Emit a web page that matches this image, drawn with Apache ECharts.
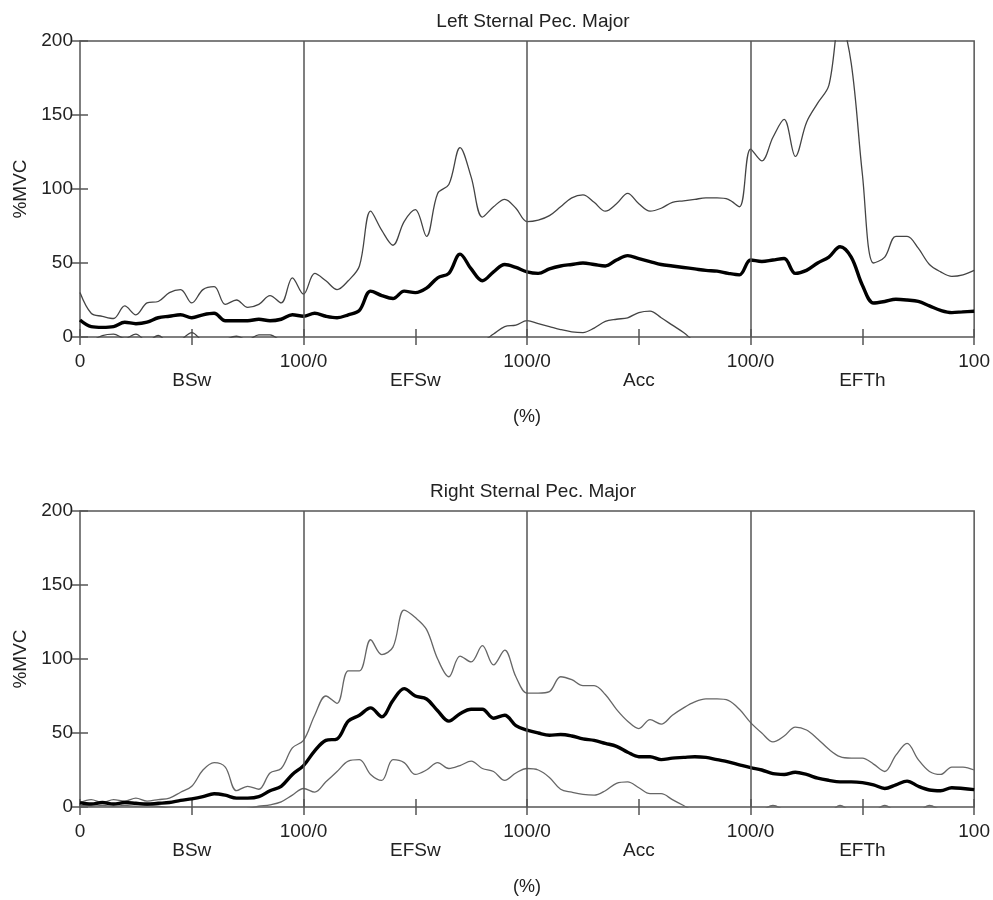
<!DOCTYPE html>
<html>
<head>
<meta charset="utf-8">
<title>Sternal Pec. Major</title>
<script src="https://cdn.jsdelivr.net/npm/echarts@6/dist/echarts.min.js"></script>
<style>
  html, body { margin: 0; padding: 0; background: #fff; }
  #chart { width: 993px; height: 900px; }
</style>
</head>
<body>
<div id="chart"></div>
<script>
// samples every 5 % of the cycle, 0..400 (four phases of 100 %)
const step = 5;
const phaseNames = ['BSw', 'EFSw', 'Acc', 'EFTh'];
const boundaryLabels = ['0', '100/0', '100/0', '100/0', '100'];
const phaseEdges = [100, 200, 300];
const titles = ['Left Sternal Pec. Major', 'Right Sternal Pec. Major'];

// Left sternal pec. major: mean + SD, mean, mean - SD
const leftUpper = [
  30, 16, 14, 12.5, 21, 15, 23, 24, 30, 32, 23, 32, 34, 22, 25, 20, 22, 28, 23, 40,
  29, 43, 38, 32, 38, 48, 85, 72, 62, 78, 86, 68, 97, 103, 128, 108, 81, 88, 93, 87,
  78, 79, 82, 88, 94, 96, 91, 85, 90, 97, 90, 85, 87, 91, 92, 93, 94, 94, 93, 88,
  127, 119, 135, 147, 122, 145, 158, 170, 215, 185, 110, 50, 54, 68, 68, 60, 49, 44, 41, 42,
  45
];
const leftMean = [
  11.5, 7, 6.5, 7, 10, 9, 10, 13, 14, 15, 13, 15, 16, 11, 11, 11, 12, 11, 12, 15,
  14, 16, 14, 13, 15, 18, 31, 28, 26, 31, 30, 33, 40, 43, 56, 46, 38, 44, 49, 47,
  44, 43, 46, 48, 49, 50, 49, 48, 52, 55, 53, 51, 49, 48, 47, 46, 45, 44.5, 43, 42,
  52, 51, 52, 53, 43, 45, 50, 54, 61, 54, 35, 23, 24, 25.5, 25, 24, 21, 18, 16.5, 17,
  17.4
];
const leftLower = [
  -8, -3, 1, 2, -1, 2, -3, 1, -4, -2, 3, -3, -6, -2, 0.5, -2, 1.5, 1.5, -3, -8,
  -6, -10, -14, -16, -18, -18, -20, -20, -20, -18, -16, -14, -12, -10, -8, -6, -3, 2, 7, 8,
  11, 9, 7, 5, 3.5, 3, 6, 10.5, 12, 13, 16.5, 17.5, 13, 8, 3, -3, -6, -10, -14, -16,
  -10, -10, -10, -10, -10, -10, -10, -10, -10, -10, -10, -10, -10, -10, -10, -10, -10, -10, -10, -10,
  -10
];

// Right sternal pec. major
const rightUpper = [
  3, 5, 3, 5, 4, 6, 4, 5, 6, 10, 14, 25, 30, 27, 11, 14, 12, 23, 26, 40,
  45, 62, 75, 70, 92, 92, 113, 103, 108, 133, 128, 120, 100, 88, 102, 98, 109, 96, 106, 88,
  77, 77, 78, 88, 86, 82, 82, 76, 66, 58, 53, 59, 56, 62, 67, 71, 73, 73, 72, 66,
  57, 50, 44, 48, 54, 52, 46, 39, 34, 33, 33, 29, 24, 35, 43, 32, 24, 22, 27, 27,
  25
];
const rightMean = [
  3, 2, 3, 2, 3, 2.5, 2, 2.5, 3, 4.5, 5.5, 7, 9, 8, 6, 6, 7, 11, 14, 22,
  28, 38, 45, 46, 58, 62, 67, 61, 72, 80, 75, 73, 65, 58, 63, 66, 66, 60, 62, 55,
  52, 50, 48.5, 49, 48, 46, 45, 43, 41, 37, 34, 34, 32, 33, 33.5, 34, 33.5, 32, 30.5, 28.5,
  26.6, 25, 22.5, 22, 23.5, 22, 19.5, 18, 17, 17, 16.5, 15, 12.5, 15, 17.5, 14, 11.5, 11, 13, 12.5,
  11.7
];
const rightLower = [
  1, 0.5, 1, 0.5, 1, 0.5, 1, 0.5, -1, -3, -4, -5, -4, -3, -2, -1, 0.5, 1.5, 3.5, 8,
  12.5, 10, 17, 24, 31, 32, 22, 18, 32, 30, 22, 25, 30, 26, 28, 31, 26, 24, 18, 23,
  26, 25, 20, 12, 10, 8.5, 8, 11, 16, 17, 13, 9, 9, 5, 1, -3, -5, -5, -5, -5,
  -3, -2, 1, -2, -4, -3, -2, -3, 1, -3, -4, -3, 1, -3, -4, -3, 1, -2, -4, -5,
  -5
];

const panels = [
  [leftUpper, leftMean, leftLower],
  [rightUpper, rightMean, rightLower]
];

const font = 'Liberation Sans, Arial, Helvetica, sans-serif';
const textColor = '#222';
const frameColor = '#555';
const gridTops = [41, 511];

function pairs(values) {
  return values.map((v, i) => [i * step, v]);
}

function xLabel(v) {
  if (v % 100 === 0) return boundaryLabels[v / 100];
  return '\n' + phaseNames[(v - 50) / 100];
}

const option = {
  animation: false,
  backgroundColor: '#fff',
  title: titles.map((t, i) => ({
    text: t,
    left: 528,
    top: gridTops[i] - 34,
    textAlign: 'center',
    textStyle: { fontSize: 19, fontWeight: 'normal', color: textColor, fontFamily: font }
  })),
  grid: gridTops.map(top => ({
    left: 80, top: top, width: 897, height: 296,
    show: true, borderColor: frameColor, borderWidth: 1.5, backgroundColor: 'transparent'
  })),
  xAxis: [],
  yAxis: [],
  series: []
};

gridTops.forEach((top, i) => {
  option.xAxis.push({
    gridIndex: i, type: 'value', min: 0, max: 400, interval: 50, position: 'bottom',
    axisLine: { show: false },
    axisTick: { inside: true, length: 8, lineStyle: { color: frameColor, width: 1.5 } },
    splitLine: { show: false },
    axisLabel: {
      formatter: xLabel, margin: 15, fontSize: 19, lineHeight: 19,
      color: textColor, fontFamily: font, showMinLabel: true, showMaxLabel: true
    },
    name: '(%)', nameLocation: 'middle', nameGap: 71,
    nameTextStyle: { fontSize: 18, color: textColor, fontFamily: font }
  });
  option.xAxis.push({
    gridIndex: i, type: 'value', min: 0, max: 400, interval: 50, position: 'top',
    axisLine: { show: false },
    axisTick: { inside: true, length: 8, lineStyle: { color: frameColor, width: 1.5 } },
    axisLabel: { show: false },
    splitLine: { show: false }
  });
  option.yAxis.push({
    gridIndex: i, type: 'value', min: 0, max: 200, interval: 50, position: 'left',
    axisLine: { show: false },
    axisTick: { inside: true, length: 8, lineStyle: { color: frameColor, width: 1.5 } },
    splitLine: { show: false },
    axisLabel: { margin: 7, fontSize: 19, color: textColor, fontFamily: font },
    name: '%MVC', nameLocation: 'middle', nameGap: 49,
    nameTextStyle: { fontSize: 19, color: textColor, fontFamily: font }
  });
  option.yAxis.push({
    gridIndex: i, type: 'value', min: 0, max: 200, interval: 50, position: 'right',
    axisLine: { show: false },
    axisTick: { inside: true, length: 8, lineStyle: { color: frameColor, width: 1.5 } },
    axisLabel: { show: false },
    splitLine: { show: false }
  });

  const [upper, mean, lower] = panels[i];
  const thinColor = i === 0 ? '#444' : '#666';
  const axisRef = { xAxisIndex: i * 2, yAxisIndex: i * 2 };
  option.series.push(Object.assign({
    type: 'line', name: 'mean+SD', data: pairs(upper), showSymbol: false, smooth: 0.35,
    lineStyle: { color: thinColor, width: 1.3 }, clip: true, z: 2
  }, axisRef));
  option.series.push(Object.assign({
    type: 'line', name: 'mean-SD', data: pairs(lower), showSymbol: false, smooth: 0.35,
    lineStyle: { color: thinColor, width: 1.3 }, clip: true, z: 2
  }, axisRef));
  option.series.push(Object.assign({
    type: 'line', name: 'mean', data: pairs(mean), showSymbol: false, smooth: 0.35,
    lineStyle: { color: '#000', width: 3.4 }, clip: true, z: 3,
    markLine: {
      silent: true, symbol: 'none', label: { show: false },
      lineStyle: { color: frameColor, width: 1.5, type: 'solid' },
      data: phaseEdges.map(x => ({ xAxis: x }))
    }
  }, axisRef));
});

const chart = echarts.init(document.getElementById('chart'));
chart.setOption(option);
</script>
</body>
</html>
